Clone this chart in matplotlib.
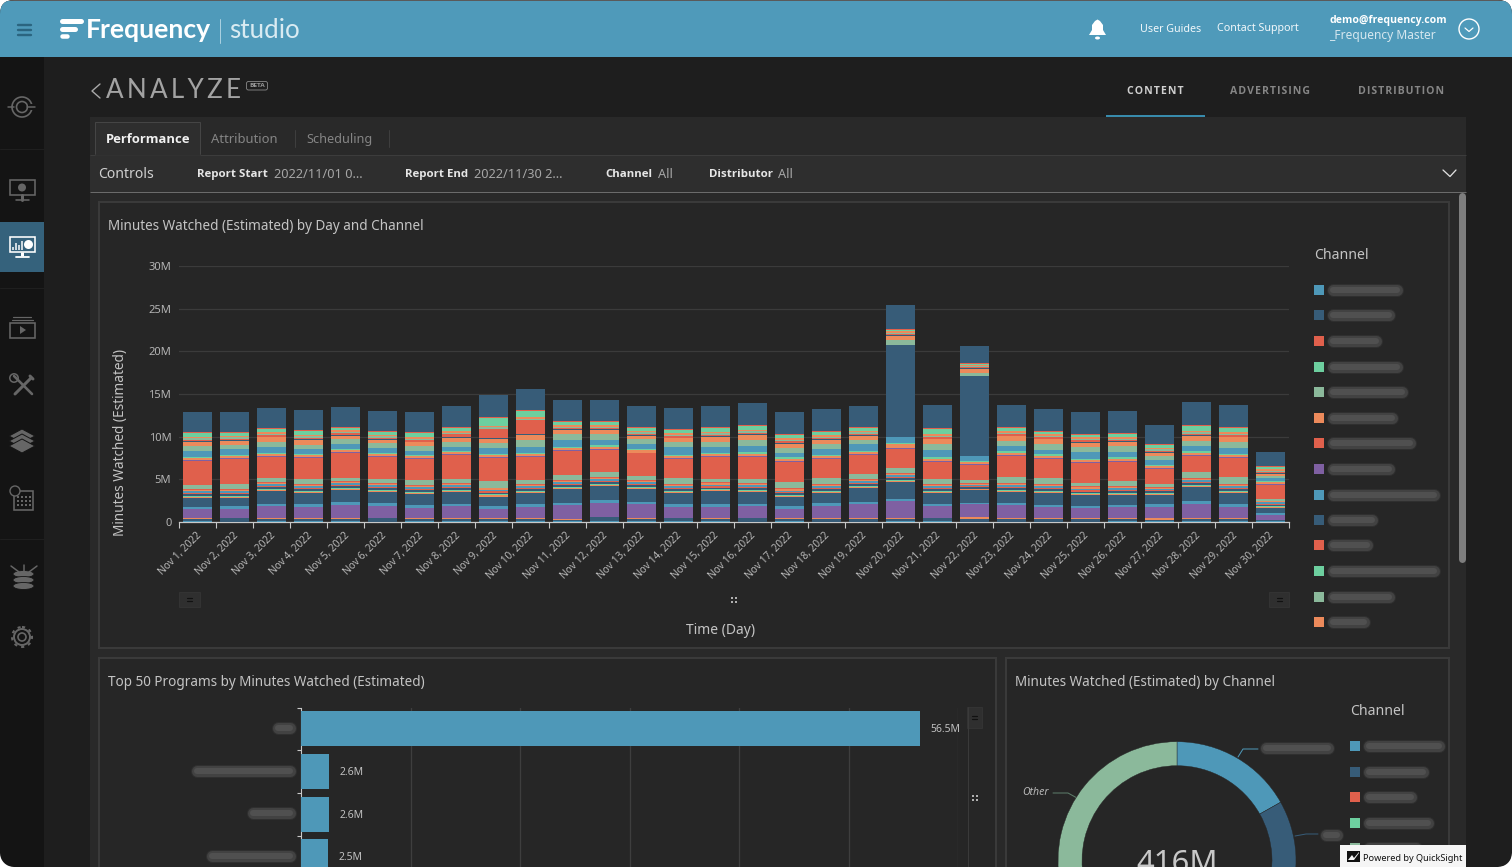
import numpy as np
import matplotlib
matplotlib.use('Agg')
import matplotlib.pyplot as plt
from matplotlib.patches import Rectangle, FancyBboxPatch, Circle, Polygon, Ellipse

plt.rcParams['font.family'] = ['Noto Sans', 'DejaVu Sans']

W, H = 1512, 867

days = ['Nov %d, 2022' % d for d in range(1, 31)]

# stacked layers, bottom to top, in millions of minutes
blue_a = [.1,.0,.1,.1,.1,.0,.1,.1,.1,.1,.08,.1,.1,.1,.1,.0,.1,.0,.0,.15,.1,.05,.0,.0,.0,.1,.1,.1,.15,.1]
navy_a = [.27,.47,.27,.27,.27,.47,.27,.27,.25,.27,.15,.43,.3,.37,.25,.47,.2,.37,.37,.2,.37,.3,.37,.37,.37,.27,.17,.27,.22,.14]
orange_a = [.1,.0,.1,.1,.1,.0,.1,.1,.12,.1,.12,.1,.07,.0,.12,.0,.17,.1,.1,.12,.0,.24,.1,.1,.1,.1,.2,.1,.1,.0]
purple_a = [1.02,1.02,1.41,1.29,1.53,1.41,1.18,1.41,1.06,1.29,1.65,1.6,1.64,1.29,1.33,1.41,1.05,1.41,1.64,2.0,1.41,1.52,1.52,1.29,1.17,1.29,1.29,1.64,1.29,.59]
blue_b = [.27,.39,.24,.35,.35,.35,.35,.24,.35,.35,.24,.35,.23,.35,.35,.23,.35,.35,.23,.23,.23,.12,.23,.23,.23,.23,.35,.35,.35,.23]
navy_b = [1.06,.94,1.53,1.29,1.41,1.29,1.29,1.41,1.1,1.29,1.65,1.65,1.52,1.29,1.45,1.41,1.02,1.17,1.64,2.0,1.29,1.52,1.29,1.41,1.29,1.17,1.09,1.64,1.29,.59]
orange_c = [.15,.15,.12,.12,.12,.15,.15,.12,.15,.12,.1,.12,.15,.15,.1,.1,.15,.15,.1,.12,.15,.07,.12,.15,.1,.15,.1,.12,.15,.1]
green_c = [.1,.08,.12,.12,.12,.1,.1,.12,.1,.12,.1,.12,.1,.1,.12,.12,.1,.1,.12,.1,.1,.08,.12,.1,.12,.1,.1,.1,.1,.1]
navy_c = [.2,.2,.18,.2,.18,.2,.2,.18,.2,.2,.2,.2,.18,.2,.18,.2,.2,.2,.2,.18,.2,.15,.2,.2,.18,.2,.18,.2,.2,.15]
red_c = [.15,.17,.15,.15,.15,.15,.15,.15,.15,.15,.15,.15,.17,.15,.17,.15,.15,.15,.15,.17,.15,.12,.15,.15,.15,.15,.12,.17,.15,.15]
blue_c = [.2,.2,.2,.18,.2,.2,.18,.2,.2,.2,.22,.2,.2,.2,.2,.2,.2,.2,.2,.2,.2,.15,.2,.2,.2,.2,.15,.2,.2,.15]
orange_d = [.15,.15,.17,.18,.18,.15,.17,.18,.15,.16,.18,.16,.15,.15,.18,.18,.15,.15,.18,.18,.15,.12,.16,.15,.18,.15,.15,.16,.15,.12]
red_d = [.1,.1,.11,.1,.1,.1,.1,.1,.1,.1,.1,.1,.1,.1,.1,.1,.1,.1,.1,.1,.1,.08,.1,.1,.12,.1,.1,.1,.1,.08]
sage_e = [.44,.56,.48,.6,.36,.48,.6,.48,.75,.48,.55,.6,.47,.67,.43,.43,.75,.67,.59,.59,.59,.4,.71,.67,.36,.59,.35,.71,.83,.2]
red_main = [2.82,2.94,2.43,2.43,2.9,2.55,2.43,2.78,2.7,2.67,2.82,2.59,2.66,2.27,2.5,2.66,2.38,2.27,2.23,2.27,2.03,1.76,2.5,2.3,2.34,2.27,1.76,1.91,2.23,1.64]
purple_f = [.1,.1,.1,.12,.1,.1,.1,.1,.1,.1,.1,.1,.1,.12,.1,.1,.1,.1,.1,.1,.1,.1,.1,.1,.1,.1,.1,.12,.1,.1]
orange_f = [.25,.25,.25,.23,.25,.25,.25,.25,.25,.25,.25,.25,.25,.23,.25,.25,.25,.25,.25,.45,.25,.25,.25,.25,.25,.25,.25,.23,.25,.25]
green_f = [.15,.15,.15,.15,.15,.15,.15,.15,.15,.15,.15,.15,.15,.15,.15,.15,.15,.15,.15,.15,.15,.1,.15,.15,.15,.15,.15,.15,.15,.15]
blue_g = [.72,.65,.7,.6,.55,.55,.5,.4,.65,.7,.8,.6,.6,.85,.7,.7,.5,.65,.75,.67,.85,.6,.6,.55,.75,.65,.55,.6,.7,.3]
navy_big = [0,0,0,0,0,0,0,0,0,0,0,0,0,0,0,0,0,0,0,10.82,0,9.38,0,0,0,0,0,0,0,0]
sage_g = [.55,.55,.6,.5,.55,.55,.5,.6,.6,.85,.75,.7,.55,.6,.6,.7,.6,.6,.55,.55,.7,.4,.65,.7,.65,.65,.5,.65,.65,.3]
orange_g = [.5,.45,.5,.5,.45,.4,.45,.55,.55,.6,.4,.5,.4,.45,.55,.6,.5,.45,.45,.45,.55,.4,.5,.5,.5,.5,.3,.55,.55,.2]
navy_h = [.1,.1,.1,.1,.1,.1,.1,.1,.1,.1,.1,.1,.1,.1,.1,.1,.1,.1,.1,.1,.1,.1,.1,.1,.1,.1,.1,.1,.1,.1]
red_h = [.15,.15,.2,.2,.2,.2,.2,.3,1.05,1.57,.15,.15,.15,.15,.2,.2,.2,.15,.15,.15,.2,.12,.2,.15,.15,.15,.2,.2,.2,.1]
sage_h = [.15,.15,.15,.15,.15,.15,.15,.15,.15,.15,.15,.15,.15,.15,.15,.15,.15,.15,.15,.15,.15,.1,.15,.15,.15,.15,.15,.15,.15,.15]
orange_h = [.2,.2,.2,.2,.2,.2,.2,.2,.2,.2,.2,.2,.2,.2,.2,.2,.2,.2,.2,.2,.2,.15,.2,.2,.2,.2,.2,.2,.2,.2]
green_h = [.39,.28,.31,.43,.25,.26,.43,.38,.87,.75,.33,.32,.29,.37,.45,.41,.34,.33,.28,.14,.55,.15,.31,.24,.25,.31,.28,.49,.43,.23]
orange_i = [.15,.15,.15,.15,.15,.15,.15,.15,.15,.15,.15,.15,.15,.15,.15,.15,.15,.15,.15,.1,.15,.1,.15,.15,.15,.15,.15,.15,.15,.15]
navy_top = [2.39,2.39,2.39,2.35,2.35,2.39,2.39,2.47,2.63,2.47,2.51,2.51,2.46,2.46,2.46,2.58,2.58,2.58,2.46,2.81,2.7,1.99,2.58,2.58,2.58,2.58,2.23,2.7,2.58,1.64]

yticks = [0, 5, 10, 15, 20, 25, 30]
ytick_labels = ['0', '5M', '10M', '15M', '20M', '25M', '30M']

program_values = [56.5, 2.6, 2.6, 2.5]
program_grid = [10, 20, 30, 40, 50, 60]

# share of the 416M total, clockwise from the top; the lower part is hidden in the reference
channel_values = [70, 60, 30, 20, 236]
donut_total = '416M'

BLUE = '#4e98b8'
NAVY = '#375c78'
RED = '#e0604c'
GREEN = '#6dcf9f'
SAGE = '#8bb99b'
ORANGE = '#ec8a5b'
PURPLE = '#7f60a2'
legend_colors = [BLUE, NAVY, RED, GREEN, SAGE, ORANGE, RED, PURPLE, BLUE, NAVY, RED, GREEN, SAGE, ORANGE]

layers = [
    (blue_a, BLUE), (navy_a, NAVY), (orange_a, ORANGE), (purple_a, PURPLE),
    (blue_b, BLUE), (navy_b, NAVY), (orange_c, ORANGE), (green_c, GREEN),
    (navy_c, NAVY), (red_c, RED), (blue_c, BLUE), (orange_d, ORANGE),
    (red_d, RED), (sage_e, SAGE), (red_main, RED), (purple_f, PURPLE),
    (orange_f, ORANGE), (green_f, GREEN), (blue_g, BLUE), (navy_big, NAVY),
    (sage_g, SAGE), (orange_g, ORANGE), (navy_h, NAVY), (red_h, RED),
    (sage_h, SAGE), (orange_h, ORANGE), (green_h, GREEN), (orange_i, RED),
    (navy_top, NAVY),
]

BOLD = ['Open Sans', 'DejaVu Sans']


def px_axes(left, top, right, bottom, **kw):
    return fig.add_axes([left / W, 1 - bottom / H, (right - left) / W, (bottom - top) / H], **kw)


def t(x, y, s, size, color='#c8c8c8', ha='left', weight='normal', ax=None, **kw):
    if weight == 'bold' and 'family' not in kw:
        kw['family'] = BOLD
    (ax or bg).text(x, y + 1.5, s, fontsize=size * 0.72, color=color, ha=ha, va='center', fontweight=weight, **kw)


def line(xs, ys, color='#666666', lw=1.5, ax=None, **kw):
    (ax or bg).plot(xs, ys, color=color, lw=lw * 0.72, solid_capstyle=kw.pop('cap', 'round'), **kw)


def blur(x0, x1, y, ax=None):
    # the channel and program names are blurred out in the reference
    for w, a, c in ((13, .3, '#474747'), (11, .7, '#4b4b4b'), (6, .5, '#5f5f5f')):
        line([x0 + 4, x1 - 4], [y, y], color=c, lw=w, alpha=a, ax=ax)


def rect(x0, y0, x1, y1, fc, ec='none', lw=0, ax=None, **kw):
    p = Rectangle((x0, y0), x1 - x0, y1 - y0, facecolor=fc, edgecolor=ec, lw=lw * 0.72, **kw)
    (ax or bg).add_patch(p)
    return p


def handle(x0, y0, x1, y1):
    rect(x0, y0, x1, y1, '#2f2f2f', ec='#333333', lw=1)
    cx, cy = (x0 + x1) / 2, (y0 + y1) / 2
    line([cx - 2.5, cx + 2.5], [cy - 1.2, cy - 1.2], color='#111111', lw=1.2)
    line([cx - 2.5, cx + 2.5], [cy + 1.2, cy + 1.2], color='#111111', lw=1.2)


def dots(cx, cy):
    xs = [cx - 2, cx + 2, cx - 2, cx + 2]
    ys = [cy - 2, cy - 2, cy + 2, cy + 2]
    bg.scatter(xs, ys, s=2.5, marker='s', color='#b0b0b0', lw=0)


fig = plt.figure(figsize=(W / 100, H / 100), dpi=100, facecolor='white')

bg = fig.add_axes([0, 0, 1, 1], zorder=0)
bg.set_xlim(0, W)
bg.set_ylim(H, 0)
bg.axis('off')
bg.set_autoscale_on(False)

# window, header and side bar
window = FancyBboxPatch((0, 0), W, H, boxstyle='round,pad=0,rounding_size=14', fc='#1e1e1e', ec='none')
bg.add_patch(window)
head = rect(0, 1, W, 57, '#4f9aba')
head.set_clip_path(window)
rect(0, 0, W, 1, '#5a5a5a').set_clip_path(window)
side = rect(0, 57, 44, H, '#141414')
side.set_clip_path(window)
for yy in [149, 288, 539]:
    line([0, 44], [yy, yy], color='#1f1f1f', lw=1)

for yy in [25, 30, 35]:
    line([18, 31], [yy, yy], color='#2b6580', lw=2.4)
for yy, x1, lw in [(21, 81, 5), (28.5, 75, 5), (35.5, 67, 4.5)]:
    line([62, x1], [yy, yy], color='white', lw=lw)
t(85.5, 29, 'Frequency', 26.5, 'white', weight='bold', family='Lato')
line([220, 220], [19, 43], color='#a9d0e0', lw=1)
t(229, 29, 'studio', 26, '#d9ebf2', family='Lato')

# bell
bg.add_patch(Polygon([(1089, 35), (1092, 30), (1092, 25), (1095, 21), (1097.5, 19.5), (1100, 21), (1103, 25), (1103, 30), (1106, 35)], fc='white', ec='none'))
bg.add_patch(Ellipse((1097.5, 38), 5, 3, fc='white', ec='none'))
t(1140, 27.5, 'User Guides', 10.7, '#f2f8fb')
t(1217, 27.5, 'Contact Support', 10.7, '#f2f8fb')
t(1329, 19.5, 'demo@frequency.com', 10.5, 'white', weight='bold')
t(1329, 34.5, '_Frequency Master', 12, '#d5e7ef')
bg.add_patch(Circle((1469, 29), 10, fc='none', ec='white', lw=1))
line([1465, 1469, 1473], [28, 31.5, 28], color='white', lw=1.2)

# side bar icons
GI = '#666666'
bg.add_patch(Circle((22, 107), 5.5, fc='none', ec=GI, lw=1.2))
bg.add_patch(Circle((22, 107), 10, fc='none', ec=GI, lw=1.2))
rect(28, 104, 37, 110, '#141414')
line([8, 14], [107, 107], color=GI)
line([27, 35], [107, 107], color=GI)
rect(10, 180, 35, 195, 'none', ec=GI, lw=1.6)
bg.add_patch(Circle((22, 187.5), 4, fc=GI, ec='none'))
line([22, 22], [195, 200], color=GI, lw=3)
line([16, 29], [200, 200], color=GI, lw=1.6)

rect(0, 222, 44, 272, '#35627c')
rect(10, 237, 35, 252, 'none', ec='white', lw=1.6)
for xx, h in [(13, 3), (16, 7), (19, 5), (21.5, 9)]:
    line([xx, xx], [249.5, 249.5 - h], color='white', lw=1.5, cap='butt')
bg.add_patch(Circle((28.5, 244.5), 4.5, fc='white', ec='none'))
line([22, 22], [252, 256], color='white', lw=3, cap='butt')
line([16, 29], [257, 257], color='white', lw=1.8)

line([13, 31], [316.5, 316.5], color=GI, lw=1.2)
line([12, 33], [320, 320], color=GI, lw=1.2)
rect(10, 323, 35, 338, 'none', ec=GI, lw=1.6)
bg.add_patch(Polygon([(20, 326), (20, 334), (26, 330)], fc=GI, ec='none'))

# tools
line([14, 32], [376, 394], color=GI, lw=2.6)
line([31, 15], [378, 394], color=GI, lw=3)
bg.add_patch(Circle((14, 378), 4.2, fc='#141414', ec=GI, lw=1.1))
line([30, 33], [376, 379], color=GI, lw=3)

for cy in [436, 441, 446]:
    bg.add_patch(Polygon([(9, cy), (22, cy - 7), (35, cy), (22, cy + 7)], fc=GI, ec='#141414', lw=0.7))
rect(14, 491, 33, 510, 'none', ec=GI, lw=1.6)
bg.add_patch(Circle((15, 491), 5, fc='#141414', ec=GI, lw=1))
bg.scatter([18, 22, 26, 30] * 3, [497] * 4 + [501] * 4 + [505] * 4, s=2.2, marker='s', color=GI, lw=0)
for cy in [574, 580, 586]:
    bg.add_patch(Ellipse((23.5, cy), 21, 7, fc=GI, ec='#141414', lw=0.6))
line([23.5, 23.5], [565, 573], color=GI)
line([11, 19], [566, 572], color=GI)
line([37, 29], [566, 572], color=GI)
bg.add_patch(Circle((22, 637), 8, fc='none', ec=GI, lw=1.4))
bg.add_patch(Circle((22, 637), 4, fc='none', ec=GI, lw=1.2))
bg.add_patch(Circle((22, 637), 10, fc='none', ec=GI, lw=1.5, ls=(0, (1.5, 2))))

# page heading
line([100, 92, 100], [84, 91, 98], color='#a8a8a8', lw=1.4)
t(106, 89, '\u2009'.join('ANALYZE'), 26, '#a3a3a3', family=['Lato', 'DejaVu Sans'])
bg.add_patch(FancyBboxPatch((246.5, 81.5), 21, 8.5, boxstyle='round,pad=0,rounding_size=2', fc='none', ec='#8a8a8a', lw=0.6))
t(257, 84.3, 'BETA', 6.5, '#999999', ha='center', weight='bold')
t(1155, 89.5, '\u200a'.join('CONTENT'), 10.5, '#cfcfcf', ha='center', weight='bold')
t(1270.5, 89.5, '\u200a'.join('ADVERTISING'), 10.5, '#868686', ha='center', weight='bold')
t(1401, 89.5, '\u200a'.join('DISTRIBUTION'), 10.5, '#868686', ha='center', weight='bold')
line([1106, 1205], [116, 116], color='#3fa7d0', lw=1.6, cap='butt')

# report panel
rect(90, 117, 1466, H, '#292929')
rect(90, 155, 1466, 192, '#2e2e2e')
line([90, 1466], [154.5, 154.5], color='#3c3c3c', lw=1, cap='butt')
line([90, 1466], [192, 192], color='#6b6b6b', lw=1, cap='butt')
rect(95, 122, 200, 155, '#2e2e2e', ec='#454545', lw=1)
line([95.5, 199.5], [155, 155], color='#2e2e2e', lw=1.5)
t(106, 138, 'Performance', 13, '#f0f0f0', weight='bold')
t(211, 138, 'Attribution', 13, '#858585')
t(306, 138, 'Scheduling', 12.7, '#858585')
for xx in [295, 389]:
    line([xx, xx], [130, 147], color='#3e3e3e', lw=1)

t(98, 172.5, 'Controls', 14, '#d0d0d0')
t(197, 173, 'Report Start', 11.5, '#e6e6e6', weight='bold')
t(274, 173, '2022/11/01 0...', 12.8, '#a6a6a6')
t(405, 173, 'Report End', 11.5, '#e6e6e6', weight='bold')
t(474, 173, '2022/11/30 2...', 12.8, '#a6a6a6')
t(605, 173, 'Channel', 11.5, '#e6e6e6', weight='bold')
t(658, 173, 'All', 12.8, '#a6a6a6')
t(709, 173, 'Distributor', 11.5, '#e6e6e6', weight='bold')
t(778, 173, 'All', 12.8, '#a6a6a6')
line([1443, 1450, 1456], [170, 176.5, 170], color='#e0e0e0', lw=1.3)

# cards
for x0, y0, x1, y1 in [(99, 202, 1449, 648), (99, 658, 996, H + 5), (1006, 658, 1449, H + 5)]:
    rect(x0, y0, x1, y1, '#262626', ec='#3a3a3a', lw=2)
line([1462, 1462], [196, 559], color='#7e7e7e', lw=7)

t(108, 225, 'Minutes Watched (Estimated) by Day and Channel', 13.5, '#c4c4c4')
t(108, 681, 'Top 50 Programs by Minutes Watched (Estimated)', 13.5, '#c4c4c4')
t(1015, 681, 'Minutes Watched (Estimated) by Channel', 13.5, '#c4c4c4')

# main legend
t(1314, 254, 'Channel', 14, '#c4c4c4')
legend_ys = [290, 315, 341, 367, 392, 418, 443, 469, 495, 520, 545, 571, 597, 622]
legend_ends = [1401, 1393, 1380, 1401, 1406, 1396, 1414, 1393, 1438, 1376, 1371, 1438, 1393, 1368]
for yy, x1, c in zip(legend_ys, legend_ends, legend_colors):
    rect(1314, yy - 5, 1324, yy + 5, c)
    blur(1329, x1, yy)

handle(179, 592, 200, 607)
handle(1269, 592, 1289, 607)
dots(734, 600)

# minutes by day
ax = px_axes(179, 266, 1289, 522, zorder=2)
ax.patch.set_alpha(0)
pos = np.arange(len(days)) + 0.5
bottom = np.zeros(len(days))
for vals, color in layers:
    ax.bar(pos, vals, width=0.81, bottom=bottom, color=color, lw=0, zorder=3)
    bottom += np.array(vals, dtype=float)
ax.set_xlim(0, 30)
ax.set_ylim(0, 30)
ax.set_yticks(yticks)
ax.set_yticklabels(ytick_labels, fontsize=8, color='#b4b4b4')
ax.tick_params(axis='y', length=0, pad=5.5)
ax.grid(axis='y', color='#3b3b3b', lw=0.9, zorder=0)
ax.set_axisbelow(True)
ax.set_xticks(np.arange(0, 31))
ax.set_xticklabels([])
ax.tick_params(axis='x', which='major', length=4, width=0.8, color='#c8c8c8')
ax.set_xticks(pos - 0.05, minor=True)
ax.set_xticklabels(days, minor=True, rotation=45, ha='right', va='top', rotation_mode='anchor', fontsize=7.3, color='#b8b8b8')
ax.tick_params(axis='x', which='minor', length=0, pad=6)
for s in ['top', 'left', 'right']:
    ax.spines[s].set_visible(False)
ax.spines['bottom'].set_color('#c8c8c8')
ax.spines['bottom'].set_linewidth(0.9)
ax.set_xlabel('Time (Day)', fontsize=10, color='#c4c4c4')
ax.xaxis.set_label_coords(0.488, -0.395)
ax.set_ylabel('Minutes Watched (Estimated)', fontsize=9.8, color='#c4c4c4')
ax.yaxis.set_label_coords(-0.046, 0.3125)

# top programs
ax2 = px_axes(301, 707.5, 958, H, zorder=2)
ax2.patch.set_alpha(0)
band = np.arange(len(program_values)) + 0.5
ax2.barh(band, program_values, height=0.82, color=BLUE, lw=0, zorder=3)
ax2.set_xlim(0, 60)
ax2.set_ylim((H - 707.5) / 42.7, 0)
ax2.set_xticks(program_grid)
ax2.set_xticklabels([])
ax2.tick_params(axis='x', length=0)
ax2.grid(axis='x', color='#3e3e3e', lw=0.9, zorder=0)
ax2.set_yticks(np.arange(0, 4))
ax2.set_yticklabels([])
ax2.tick_params(axis='y', length=3, width=0.8, color='#c8c8c8')
for s in ['top', 'right', 'bottom']:
    ax2.spines[s].set_visible(False)
ax2.spines['left'].set_color('#c8c8c8')
ax2.spines['left'].set_linewidth(0.8)
for yy, v in zip(band, program_values):
    ax2.annotate('%.1fM' % v, (v, yy), xytext=(7.5, -0.7), textcoords='offset points', fontsize=7.5, color='#c0c0c0', va='center', annotation_clip=False, zorder=4)
for x0, x1, yy in [(274, 294, 728), (193, 294, 771), (249, 294, 813), (208, 294, 856)]:
    blur(x0, x1, yy)
line([967.5, 967.5], [707, H], color='#3a3a3a', lw=1)
handle(967, 707, 982, 728)
dots(975, 798)

# minutes by channel
ax3 = px_axes(1058, 741.7, 1296, 979.7, zorder=2)
ax3.pie(channel_values, colors=[BLUE, NAVY, RED, GREEN, SAGE], startangle=90, counterclock=False, radius=1,
        wedgeprops=dict(width=24 / 119, edgecolor='#262626', linewidth=0.3))
ax3.set_xlim(-1, 1)
ax3.set_ylim(-1, 1)
bg.text(1177, 872, donut_total, fontsize=31 * 0.72, color='#c8c8c8', ha='center', va='baseline')
line([1238, 1243, 1258], [757, 749, 749], color=BLUE, lw=1)
blur(1262, 1332, 748)
line([1295, 1306, 1318], [836, 834, 834], color=NAVY, lw=1)
blur(1322, 1341, 835)
line([1053, 1068, 1077], [793, 793, 798], color='#5d7d6a', lw=1)
t(1022, 791, 'Other', 10.5, '#b8b8b8', style='italic')
t(1350, 710, 'Channel', 14, '#c4c4c4')
for yy, x1, c in zip([746, 771.5, 797, 822.5, 848], [1443, 1427, 1415, 1432, 1420], [BLUE, NAVY, RED, GREEN, SAGE]):
    rect(1350, yy - 5, 1360, yy + 5, c)
    blur(1365, x1, yy)

# stuff that sits over the charts
fr = fig.add_axes([0, 0, 1, 1], zorder=5)
fr.set_xlim(0, W)
fr.set_ylim(H, 0)
fr.axis('off')
fr.set_autoscale_on(False)
rect(1340, 845, 1466, H, '#f5f5f5', ax=fr)
rect(1347, 851, 1360, 862, '#111111', ax=fr)
fr.add_patch(Polygon([(1348, 860), (1352, 855), (1354, 858), (1359, 852), (1359, 853), (1354, 860)], fc='#f5f5f5', ec='none'))
fr.text(1363, 858.5, 'Powered by QuickSight', fontsize=9.2 * 0.72, color='#111111', va='center')
# rounded bottom corners of the window
for cx in [0, W]:
    sx = 1 if cx == 0 else -1
    corner = [(cx, H), (cx + sx * 14, H)] + [(cx + sx * (14 - 14 * np.sin(a)), H - 14 + 14 * np.cos(a)) for a in np.linspace(0, np.pi / 2, 10)]
    fr.add_patch(Polygon(corner, fc='white', ec='none'))

fig.savefig('out.png', dpi=100, facecolor=fig.get_facecolor())
